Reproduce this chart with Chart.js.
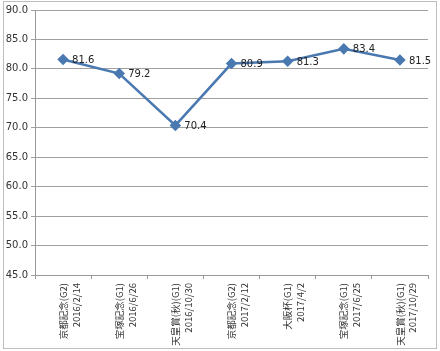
<!DOCTYPE html>
<html lang="ja">
<head>
<meta charset="UTF-8">
<title>レース指数</title>
<script src="https://cdn.jsdelivr.net/npm/chart.js"></script>
<style>
  body { margin: 0; background: #fff; }
  .wrap { position: relative; width: 440px; height: 351px; }
  .frame { position: absolute; left: 3px; top: 1px; width: 432px; height: 346px; border: 1px solid #bdbdbd; pointer-events: none; }
</style>
</head>
<body>
<div class="wrap">
  <canvas id="grafico" width="440" height="351"></canvas>
  <div class="frame"></div>
</div>
<script>
  // races and dates (one label per point)
  const races = ['京都記念(G2)', '宝塚記念(G1)', '天皇賞(秋)(G1)', '京都記念(G2)', '大阪杯(G1)', '宝塚記念(G1)', '天皇賞(秋)(G1)'];
  const dates = ['2016/2/14', '2016/6/26', '2016/10/30', '2017/2/12', '2017/4/2', '2017/6/25', '2017/10/29'];
  const scores = [81.6, 79.2, 70.4, 80.9, 81.3, 83.4, 81.5];

  const labels = races.map((r, i) => [r, dates[i]]);

  // value labels to the right of each point
  const valueLabels = {
    id: 'valueLabels',
    afterDatasetsDraw(chart) {
      const ctx = chart.ctx;
      const meta = chart.getDatasetMeta(0);
      ctx.save();
      ctx.font = '10px "DejaVu Sans", Verdana, sans-serif';
      ctx.fillStyle = '#222';
      ctx.textAlign = 'left';
      ctx.textBaseline = 'middle';
      meta.data.forEach((pt, i) => {
        ctx.fillText(scores[i].toFixed(1), pt.x + 9, pt.y + 1);
      });
      ctx.restore();
    }
  };

  const ctx = document.getElementById('grafico').getContext('2d');
  new Chart(ctx, {
    type: 'line',
    data: {
      labels: labels,
      datasets: [{
        data: scores,
        borderColor: '#4a78b0',
        backgroundColor: '#4a78b0',
        borderWidth: 2.5,
        pointStyle: 'rectRot',
        pointRadius: 4,
        tension: 0
      }]
    },
    plugins: [valueLabels],
    options: {
      responsive: false,
      animation: false,
      layout: { padding: { top: 10, right: 12, left: 2, bottom: 0 } },
      plugins: { legend: { display: false }, tooltip: { enabled: false } },
      scales: {
        x: {
          offset: true,
          grid: { display: true, drawOnChartArea: false, tickLength: 4, color: '#999', offset: true },
          border: { color: '#999' },
          ticks: {
            maxRotation: 90, minRotation: 90, autoSkip: false,
            color: '#333',
            font: { size: 9.5, lineHeight: 1.35, family: '"Noto Sans CJK JP", "DejaVu Sans", sans-serif' },
            padding: 4
          },
          afterFit(s) { s.height = 76; }
        },
        y: {
          min: 45, max: 90,
          ticks: {
            stepSize: 5,
            color: '#333',
            font: { size: 10, family: '"DejaVu Sans", Verdana, sans-serif' },
            callback: v => v.toFixed(1),
            padding: 3
          },
          grid: { color: '#a0a0a0', tickLength: 4 },
          border: { color: '#999' },
          afterFit(s) { s.width = 33; }
        }
      }
    }
  });
</script>
</body>
</html>
